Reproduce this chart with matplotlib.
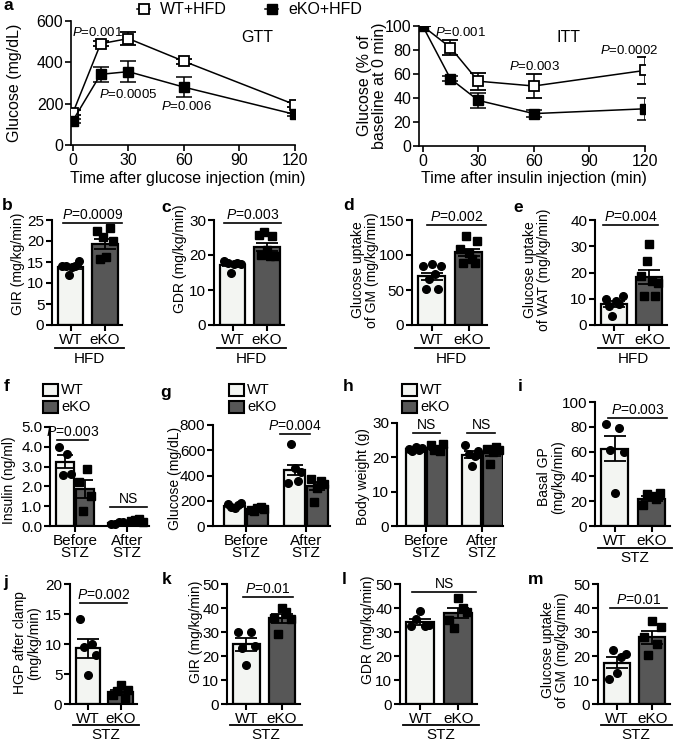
import numpy as np
import matplotlib
matplotlib.use('Agg')
import matplotlib.pyplot as plt
from matplotlib.lines import Line2D
from matplotlib.patches import Rectangle

plt.rcParams['font.family'] = ['Liberation Sans', 'DejaVu Sans']
plt.rcParams['mathtext.fontset'] = 'custom'
plt.rcParams['mathtext.it'] = 'Liberation Sans:italic'
plt.rcParams['mathtext.rm'] = 'Liberation Sans'

# ---------------- data ----------------
time_pts = [0, 15, 30, 60, 120]
gtt_wt = [155, 490, 515, 405, 195]
gtt_wt_sem = [12, 12, 30, 12, 12]
gtt_ko = [118, 342, 355, 280, 148]
gtt_ko_sem = [10, 35, 52, 50, 8]
itt_wt = [100, 82, 54, 50, 63]
itt_wt_sem = [0, 6, 7, 10, 11]
itt_ko = [100, 56, 38, 27, 31]
itt_ko_sem = [0, 2, 6, 3, 9]

groups2 = ['WT', 'eKO']
groups4 = ['Before\nSTZ', 'After\nSTZ']

b_wt = [14.0, 14.1, 11.8, 13.9, 14.0, 15.2]
b_ko = [22.5, 15.6, 21.0, 16.3, 23.2, 20.0]
b_mean = [13.8, 19.3]
b_sem = [0.45, 1.2]

c_wt = [18.3, 17.6, 15.0, 17.4, 17.8, 17.5]
c_ko = [25.8, 20.0, 26.5, 21.5, 19.6, 25.5, 19.6]
c_mean = [17.2, 22.3]
c_sem = [0.45, 1.1]

d_wt = [84, 51, 66, 87, 73, 52, 84]
d_ko = [108, 89, 127, 103, 95, 89, 120]
d_mean = [70, 104]
d_sem = [5, 5]

e_wt = [9.9, 7.3, 3.5, 9.2, 8.0, 11.1]
e_ko = [18.5, 11.1, 24.4, 30.8, 16.8, 11.1, 16.0]
e_mean = [8.0, 18.3]
e_sem = [1.0, 2.6]

f_wt = [[4.0, 2.6, 3.65, 2.65], [0.12, 0.1, 0.18, 0.2]]
f_ko = [[2.2, 0.75, 2.9, 1.5], [0.25, 0.3, 0.35, 0.22]]
f_wt_mean = [3.25, 0.15]
f_ko_mean = [1.87, 0.28]
f_wt_sem = [0.32, 0.03]
f_ko_sem = [0.45, 0.03]

g_wt = [[175, 150, 140, 165, 180], [340, 650, 460, 360, 430]]
g_ko = [[130, 120, 145, 150, 135], [370, 190, 300, 360, 330]]
g_wt_mean = [160, 445]
g_ko_mean = [135, 315]
g_wt_sem = [8, 42]
g_ko_sem = [5, 30]

h_wt = [[22.5, 21.8, 23.0, 22.0, 22.8], [23.5, 21.0, 17.5, 20.5, 21.8]]
h_ko = [[23.5, 22.0, 22.5, 21.8, 23.8], [22.5, 18.0, 21.5, 23.0, 22.0]]
h_wt_mean = [22.4, 20.8]
h_ko_mean = [22.6, 21.2]
h_wt_sem = [0.3, 1.0]
h_ko_sem = [0.4, 0.9]

i_wt = [82, 61, 27, 79, 60]
i_ko = [17, 26, 24, 22, 27]
i_mean = [62.5, 22]
i_sem = [10, 2]

j_wt = [14.2, 9.5, 4.8, 10.0, 8.2]
j_ko = [1.5, 2.2, 3.2, 1.0, 2.3]
j_mean = [9.3, 2.0]
j_sem = [1.6, 0.4]

k_wt = [30.2, 23.5, 16.3, 30.2, 24.0]
k_ko = [36.0, 29.0, 40.0, 38.5, 35.5]
k_mean = [24.8, 35.8]
k_sem = [2.6, 1.9]

l_wt = [32.5, 35.5, 38.6, 32.5, 33.0]
l_ko = [35.0, 31.8, 44.0, 40.0, 38.5]
l_mean = [34.2, 38.0]
l_sem = [1.2, 2.2]

m_wt = [10.6, 22.6, 13.0, 19.5, 20.7]
m_ko = [28.0, 20.5, 34.5, 25.0, 32.0]
m_mean = [17.1, 27.8]
m_sem = [2.3, 2.7]

# ---------------- style ----------------
WT_FILL = '#f3f5f2'
KO_FILL = '#575757'
TICK_FS = 11
LAB_FS = 10
P_FS = 10
LET_FS = 12.5

W, H = 674, 743
fig = plt.figure(figsize=(W / 100, H / 100), dpi=100)


def pax(l, r, t, b):
    return fig.add_axes([l / W, 1 - b / H, (r - l) / W, (b - t) / H])


def ftext(x, y, s, **kw):
    kw.setdefault('ha', 'center')
    kw.setdefault('va', 'center')
    return fig.text(x / W, 1 - y / H, s, **kw)


def fline(x1, x2, y, lw=1.3):
    fig.add_artist(Line2D([x1 / W, x2 / W], [1 - y / H, 1 - y / H],
                          transform=fig.transFigure, color='black', lw=lw))


def style(ax, lw=1.5):
    for s in ['top', 'right']:
        ax.spines[s].set_visible(False)
    for s in ['left', 'bottom']:
        ax.spines[s].set_linewidth(lw)
    ax.tick_params(width=lw, length=4, labelsize=TICK_FS, pad=1.5)


def ptxt(v):
    return r'$\it{P}$=' + v


def sig(ax, x1, x2, y, text, dy=8):
    ax.plot([x1, x2], [y, y], color='black', lw=1.2, clip_on=False)
    ax.annotate(text, xy=((x1 + x2) / 2, y), xytext=(0, dy * 0.72), textcoords='offset points',
                ha='center', va='center', fontsize=P_FS, annotation_clip=False)


def axpx(ax):
    p = ax.get_position()
    return p.x0 * W, p.x1 * W, (1 - p.y1) * H, (1 - p.y0) * H


def two_bar(ax, wt_pts, ko_pts, means, sems, ymax, yticks, group, sigline, sigtext,
            dline=23, dtext=34):
    xs = [0, 1]
    ax.bar(xs, means, width=0.74, color=[WT_FILL, KO_FILL], edgecolor='black', linewidth=1.6, zorder=1)
    for x, pts, mk in [(0, wt_pts, 'o'), (1, ko_pts, 's')]:
        off = np.linspace(-0.24, 0.24, len(pts))
        ax.plot(x + off, pts, mk, color='black', ms=5.5, zorder=3, clip_on=False)
    ax.errorbar(xs, means, yerr=sems, fmt='none', ecolor='black', elinewidth=1.3,
                capsize=8, capthick=1.3, zorder=4)
    ax.set_xlim(-0.54, 1.5)
    ax.set_ylim(0, ymax)
    ax.set_yticks(yticks)
    ax.set_xticks(xs)
    ax.set_xticklabels(groups2)
    style(ax)
    l, r, t, b = axpx(ax)
    fline(l + 3, r + 2, b + dline)
    ftext((l + r) / 2 + 2, b + dtext, group, fontsize=TICK_FS)
    x1, x2, y = sigline
    sig(ax, x1, x2, y, sigtext)


def four_bar(ax, wt_pts, ko_pts, wt_mean, ko_mean, wt_sem, ko_sem, ymax, yticks, yticklabels, xlim):
    xs = np.array([0, 1])
    off = 0.19
    ax.bar(xs - off, wt_mean, width=0.35, color=WT_FILL, edgecolor='black', linewidth=1.6, zorder=1)
    ax.bar(xs + off, ko_mean, width=0.35, color=KO_FILL, edgecolor='black', linewidth=1.6, zorder=1)
    for gi in range(2):
        for pts, sh, mk in [(wt_pts[gi], -off, 'o'), (ko_pts[gi], off, 's')]:
            jit = np.linspace(-0.11, 0.11, len(pts))
            ax.plot(xs[gi] + sh + jit, pts, mk, color='black', ms=5.5, zorder=3, clip_on=False)
    ax.errorbar(xs - off, wt_mean, yerr=wt_sem, fmt='none', ecolor='black', elinewidth=1.3,
                capsize=6, capthick=1.3, zorder=4)
    ax.errorbar(xs + off, ko_mean, yerr=ko_sem, fmt='none', ecolor='black', elinewidth=1.3,
                capsize=6, capthick=1.3, zorder=4)
    ax.set_xlim(*xlim)
    ax.set_ylim(0, ymax)
    ax.set_yticks(yticks)
    ax.set_yticklabels(yticklabels)
    ax.set_xticks(xs)
    ax.set_xticklabels(groups4, linespacing=0.85)
    style(ax)


def legend_boxes(x, y):
    for yy, col, lab in [(y, WT_FILL, 'WT'), (y + 17, KO_FILL, 'eKO')]:
        fig.add_artist(Rectangle((x / W, 1 - (yy + 6) / H), 15 / W, 12 / H, transform=fig.transFigure,
                                 facecolor=col, edgecolor='black', lw=1.5))
        ftext(x + 18, yy, lab, fontsize=10.5, ha='left')


# ---------------- panel a: GTT ----------------
ax = pax(71, 295, 21, 145)
ax.errorbar(time_pts, gtt_wt, yerr=gtt_wt_sem, color='black', lw=1.1, marker='s', ms=7.5,
            mfc='white', mec='black', mew=1.3, capsize=6, capthick=1.1, elinewidth=1.1, zorder=3)
ax.errorbar(time_pts, gtt_ko, yerr=gtt_ko_sem, color='black', lw=1.1, marker='s', ms=7.5,
            mfc='black', mec='black', capsize=6, capthick=1.1, elinewidth=1.1, zorder=3)
ax.set_xlim(-1, 120)
ax.set_ylim(0, 600)
ax.set_xticks([0, 30, 60, 90, 120])
ax.set_yticks([0, 200, 400, 600])
style(ax, lw=1.2)
ax.tick_params(labelsize=11.5)
ftext(188, 178, 'Time after glucose injection (min)', fontsize=11.5)
ftext(15, 83, 'Glucose (mg/dL)', fontsize=11.5, rotation=90)
ftext(257, 38, 'GTT', fontsize=11.5)
ftext(98, 32, ptxt('0.001'), fontsize=9.5)
ftext(128, 94, ptxt('0.0005'), fontsize=9.5)
ftext(187, 106, ptxt('0.006'), fontsize=9.5)

# ---------------- panel a: ITT ----------------
ax = pax(419, 645, 26, 146)
ax.errorbar(time_pts, itt_wt, yerr=itt_wt_sem, color='black', lw=1.1, marker='s', ms=7.5,
            mfc='white', mec='black', mew=1.3, capsize=6, capthick=1.1, elinewidth=1.1, zorder=3)
ax.errorbar(time_pts, itt_ko, yerr=itt_ko_sem, color='black', lw=1.1, marker='s', ms=7.5,
            mfc='black', mec='black', capsize=6, capthick=1.1, elinewidth=1.1, zorder=4)
ax.set_xlim(-2, 120)
ax.set_ylim(0, 100)
ax.set_xticks([0, 30, 60, 90, 120])
ax.set_yticks([0, 20, 40, 60, 80, 100])
style(ax, lw=1.2)
ax.tick_params(labelsize=11.5)
ftext(534, 178, 'Time after insulin injection (min)', fontsize=11.5)
ftext(372, 86, 'Glucose (% of\nbaseline at 0 min)', fontsize=11.5, rotation=90, linespacing=1.0)
ftext(569, 37, 'ITT', fontsize=11.5)
ftext(461, 32, ptxt('0.001'), fontsize=9.5)
ftext(535, 67, ptxt('0.003'), fontsize=9.5)
ftext(629, 50, ptxt('0.0002'), fontsize=9.5)

# legend for a
fline(137, 150, 9, lw=1.1)
fig.add_artist(Line2D([143.5 / W], [1 - 9 / H], transform=fig.transFigure, marker='s', ms=7.5,
                      mfc='white', mec='black', mew=1.3, color='black'))
ftext(160, 9, 'WT+HFD', fontsize=11.5, ha='left')
fline(265, 278, 9, lw=1.1)
fig.add_artist(Line2D([271.5 / W], [1 - 9 / H], transform=fig.transFigure, marker='s', ms=7.5,
                      mfc='black', mec='black', color='black'))
ftext(288, 9, 'eKO+HFD', fontsize=11.5, ha='left')

# ---------------- row b-e ----------------
ax = pax(52, 122, 220, 325)
two_bar(ax, b_wt, b_ko, b_mean, b_sem, 25, [0, 5, 10, 15, 20, 25], 'HFD', (-0.22, 1.49, 24.3), ptxt('0.0009'))
ftext(18, 264, 'GIR (mg/kg/min)', fontsize=LAB_FS, rotation=90)

ax = pax(214, 284, 220, 325)
two_bar(ax, c_wt, c_ko, c_mean, c_sem, 30, [0, 10, 20, 30], 'HFD', (-0.25, 1.4, 29.1), ptxt('0.003'))
ftext(180, 259, 'GDR (mg/kg/min)', fontsize=LAB_FS, rotation=90)

ax = pax(412, 487, 220, 325)
two_bar(ax, d_wt, d_ko, d_mean, d_sem, 150, [0, 50, 100, 150], 'HFD', (-0.12, 1.48, 142.9), ptxt('0.002'))
ftext(365, 270, 'Glucose uptake\nof GM (mg/kg/min)', fontsize=LAB_FS, rotation=90, linespacing=1.0)

ax = pax(595, 667, 220, 325)
two_bar(ax, e_wt, e_ko, e_mean, e_sem, 40, [0, 10, 20, 30, 40], 'HFD', (-0.3, 1.25, 38.1), ptxt('0.004'))
ftext(537, 270, 'Glucose uptake\nof WAT (mg/kg/min)', fontsize=LAB_FS, rotation=90, linespacing=1.0)

# ---------------- row f-i ----------------
ax = pax(50, 149, 427, 526)
four_bar(ax, f_wt, f_ko, f_wt_mean, f_ko_mean, f_wt_sem, f_ko_sem, 5, [0, 1, 2, 3, 4, 5],
         ['0.0', '1.0', '2.0', '3.0', '4.0', '5.0'], (-0.48, 1.42))
sig(ax, -0.35, 0.25, 4.35, ptxt('0.003'))
sig(ax, 0.67, 1.38, 0.96, 'NS')
ftext(9, 480, 'Insulin (ng/ml)', fontsize=LAB_FS, rotation=90)
legend_boxes(43, 390)

ax = pax(213, 330, 425, 526)
four_bar(ax, g_wt, g_ko, g_wt_mean, g_ko_mean, g_wt_sem, g_ko_sem, 800, [0, 200, 400, 600, 800],
         ['0', '200', '400', '600', '800'], (-0.55, 1.4))
sig(ax, 0.57, 1.07, 729, ptxt('0.004'))
ftext(175, 478, 'Glucose (mg/dL)', fontsize=LAB_FS, rotation=90)
legend_boxes(229, 390)

ax = pax(397, 503, 423, 526)
four_bar(ax, h_wt, h_ko, h_wt_mean, h_ko_mean, h_wt_sem, h_ko_sem, 30, [0, 10, 20, 30],
         ['0', '10', '20', '30'], (-0.52, 1.37))
sig(ax, -0.23, 0.25, 27.1, 'NS')
sig(ax, 0.73, 1.23, 27.1, 'NS')
ftext(363, 477, 'Body weight (g)', fontsize=LAB_FS, rotation=90)
legend_boxes(402, 390)

ax = pax(595, 670, 402, 526)
two_bar(ax, i_wt, i_ko, i_mean, i_sem, 100, [0, 20, 40, 60, 80, 100], 'STZ', (-0.2, 1.42, 87), ptxt('0.003'),
        dline=22, dtext=32)
ftext(551, 477, 'Basal GP\n(mg/kg/min)', fontsize=LAB_FS, rotation=90, linespacing=1.0)

# ---------------- row j-m ----------------
RB = 704
ax = pax(70, 137, 584, RB)
two_bar(ax, j_wt, j_ko, j_mean, j_sem, 20, [0, 5, 10, 15, 20], 'STZ', (-0.25, 1.2, 16.9), ptxt('0.002'),
        dline=21, dtext=31)
ftext(27, 643, 'HGP after clamp\n(mg/kg/min)', fontsize=LAB_FS, rotation=90, linespacing=1.0)

ax = pax(227, 300, 584, RB)
two_bar(ax, k_wt, k_ko, k_mean, k_sem, 50, [0, 10, 20, 30, 40, 50], 'STZ', (-0.1, 1.3, 44.7), ptxt('0.01'),
        dline=21, dtext=31)
ftext(196, 632, 'GIR (mg/kg/min)', fontsize=LAB_FS, rotation=90)

ax = pax(400, 477, 584, RB)
two_bar(ax, l_wt, l_ko, l_mean, l_sem, 50, [0, 10, 20, 30, 40, 50], 'STZ', (-0.22, 1.48, 46.7), 'NS',
        dline=21, dtext=31)
ftext(368, 630, 'GDR (mg/kg/min)', fontsize=LAB_FS, rotation=90)

ax = pax(598, 670, 584, RB)
two_bar(ax, m_wt, m_ko, m_mean, m_sem, 50, [0, 10, 20, 30, 40, 50], 'STZ', (-0.19, 1.42, 40.2), ptxt('0.01'),
        dline=21, dtext=31)
ftext(555, 650, 'Glucose uptake\nof GM (mg/kg/min)', fontsize=LAB_FS, rotation=90, linespacing=1.0)

# ---------------- panel letters ----------------
for lt, x, y in [('a', 4, 6), ('b', 2, 206), ('c', 161, 207), ('d', 343, 206), ('e', 513, 207),
                 ('f', 4, 386), ('g', 160, 392), ('h', 343, 386), ('i', 518, 387),
                 ('j', 3, 582), ('k', 162, 579), ('l', 342, 579), ('m', 528, 579)]:
    ftext(x, y, lt, fontsize=LET_FS, fontweight='bold', ha='left')

fig.savefig('out.png', dpi=100)
